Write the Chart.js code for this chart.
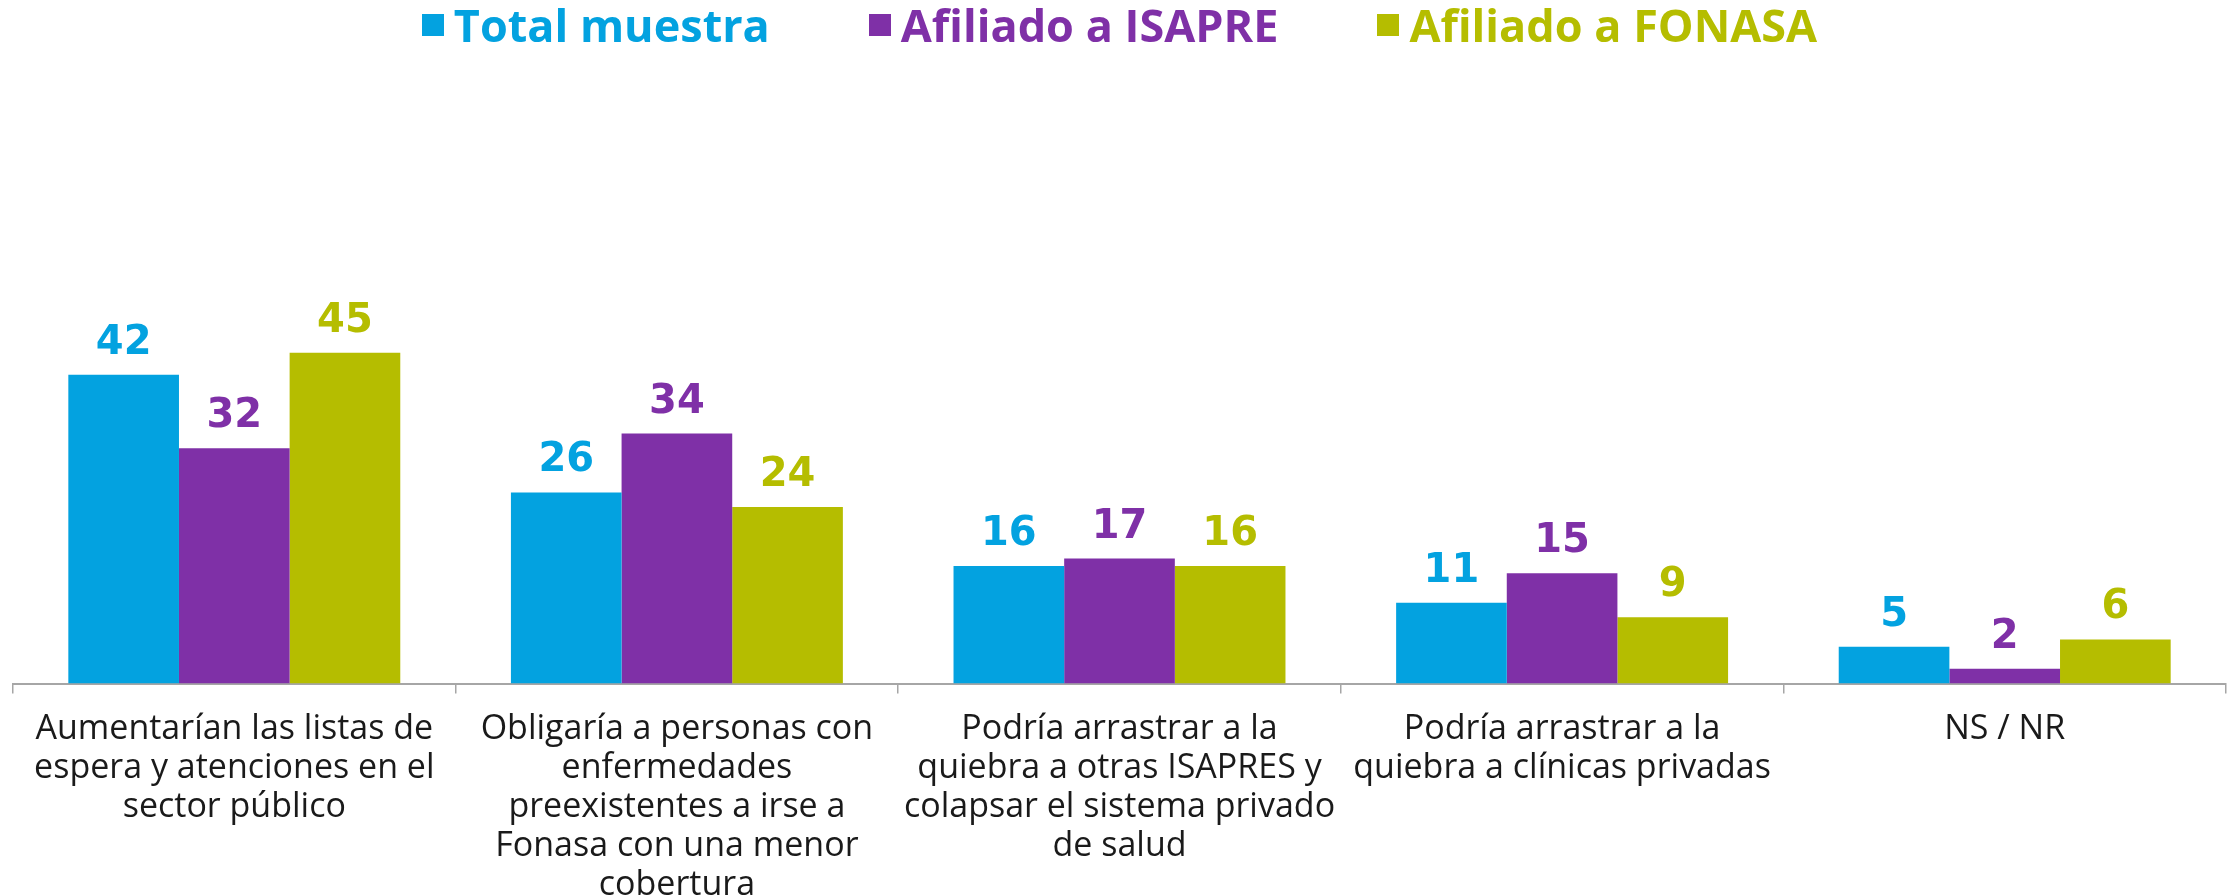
<!DOCTYPE html>
<html>
<head>
<meta charset="utf-8">
<script src="https://cdn.jsdelivr.net/npm/chart.js@4"></script>
<style>
  html, body { margin: 0; padding: 0; background: #fff; }
  #wrap { position: relative; width: 2239px; height: 895px; }
  #leyenda {
    position: absolute; top: 0; left: 0; width: 100%;
    display: flex; justify-content: center; gap: 99px;
    font-family: "Open Sans", sans-serif; font-weight: 700; font-size: 45px;
    line-height: 50px;
  }
  #leyenda span.item { display: flex; align-items: center; }
  #leyenda span.caja { width: 22px; height: 22px; margin-right: 10px; display: inline-block; }
</style>
</head>
<body>
<div id="wrap">
  <canvas id="grafico" width="2239" height="895"></canvas>
  <div id="leyenda"></div>
</div>
<script>
// Datos del gráfico
const categorias = [
  ["Aumentarían las listas de", "espera y atenciones en el", "sector público"],
  ["Obligaría a personas con", "enfermedades", "preexistentes a irse a", "Fonasa con una menor", "cobertura"],
  ["Podría arrastrar a la", "quiebra a otras ISAPRES y", "colapsar el sistema privado", "de salud"],
  ["Podría arrastrar a la", "quiebra a clínicas privadas"],
  ["NS / NR"]
];
const series = ["Total muestra", "Afiliado a ISAPRE", "Afiliado a FONASA"];
const totalMuestra = [42, 26, 16, 11, 5];
const afiliadoIsapre = [32, 34, 17, 15, 2];
const afiliadoFonasa = [45, 24, 16, 9, 6];

const colores = ['#03A2E0', '#7F30A7', '#B5BD00'];
const valores = [totalMuestra, afiliadoIsapre, afiliadoFonasa];

// Leyenda en HTML
const leyenda = document.getElementById('leyenda');
series.forEach((nombre, i) => {
  const item = document.createElement('span');
  item.className = 'item';
  item.style.color = colores[i];
  item.innerHTML = '<span class="caja" style="background:' + colores[i] + '"></span>' + nombre;
  leyenda.appendChild(item);
});

// Etiquetas de valores sobre las barras
const etiquetasValores = {
  id: 'etiquetasValores',
  afterDatasetsDraw(chart) {
    const ctx = chart.ctx;
    ctx.save();
    ctx.font = 'bold 40px "DejaVu Sans", sans-serif';
    ctx.textAlign = 'center';
    ctx.textBaseline = 'alphabetic';
    chart.data.datasets.forEach((ds, i) => {
      chart.getDatasetMeta(i).data.forEach((barra, j) => {
        ctx.fillStyle = ds.backgroundColor;
        ctx.fillText(ds.data[j], barra.x, barra.y - 21);
      });
    });
    ctx.restore();
  }
};

new Chart(document.getElementById('grafico').getContext('2d'), {
  type: 'bar',
  data: {
    labels: categorias,
    datasets: series.map((nombre, i) => ({
      label: nombre,
      data: valores[i],
      backgroundColor: colores[i],
      categoryPercentage: 0.75,
      barPercentage: 1.0
    }))
  },
  options: {
    responsive: false,
    animation: false,
    layout: { padding: { top: 316, left: 13, right: 13, bottom: -26 } },
    plugins: {
      legend: { display: false },
      tooltip: { enabled: false }
    },
    scales: {
      y: { display: false, min: 0, max: 50 },
      x: {
        border: { display: true, color: '#A6A6A6', width: 2 },
        grid: {
          display: true,
          drawOnChartArea: false,
          drawTicks: true,
          tickLength: 10,
          color: '#A6A6A6',
          lineWidth: 1.5
        },
        ticks: {
          color: '#1a1a1a',
          padding: 16,
          maxRotation: 0,
          autoSkip: false,
          font: { family: '"Open Sans", sans-serif', size: 34, lineHeight: 1.15 }
        }
      }
    }
  },
  plugins: [etiquetasValores]
});
</script>
</body>
</html>
